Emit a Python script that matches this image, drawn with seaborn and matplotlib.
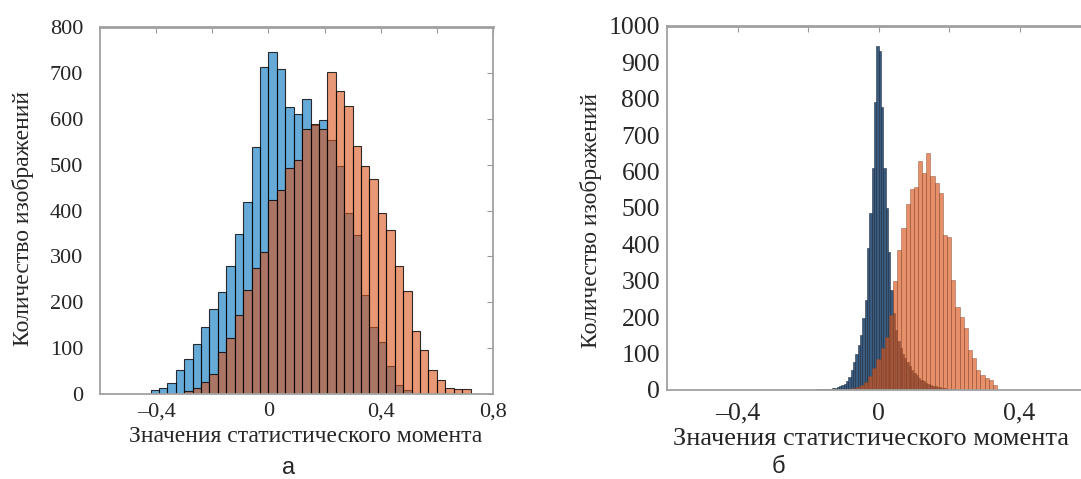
import numpy as np
import pandas as pd
import matplotlib
matplotlib.use("Agg")
import matplotlib.pyplot as plt
from matplotlib.colors import to_rgba
import seaborn as sns

# ---- panel a: counts per bin (bin width 0.03)
bin_a = 0.03
blue_a_start = -0.42
blue_a = [9, 12, 25, 52, 76, 109, 147, 185, 222, 278, 349, 419, 539, 713,
          746, 708, 626, 610, 644, 586, 597, 553, 496, 394, 347, 216, 147,
          114, 60, 20, 9]
orange_a_start = -0.30
orange_a = [7, 12, 27, 44, 92, 121, 172, 227, 274, 310, 423, 445, 492, 510,
            577, 588, 577, 702, 661, 628, 541, 497, 469, 395, 358, 278, 225,
            137, 96, 52, 31, 14, 10, 10]

# ---- panel b: narrow bins
bin_b_blue = 0.0066
blue_b_start = -0.178
blue_b = [2, 2, 3, 3, 3, 4, 4, 5, 6, 8, 10, 13, 17, 24, 35, 55, 78, 100,
          125, 151, 197, 247, 390, 486, 610, 792, 945, 930, 778, 610, 500,
          380, 275, 211, 165, 135, 115, 100, 88, 76, 65, 55, 48, 40, 34, 28,
          24, 20, 17, 14, 12, 10, 8, 7, 6, 5, 4, 3, 2, 2]
bin_b_orange = 0.0118
orange_b_start = -0.0886
orange_b = [3, 5, 8, 13, 22, 38, 60, 85, 115, 146, 206, 300, 385, 445, 511,
            552, 558, 630, 596, 652, 588, 568, 541, 426, 421, 302, 229, 201,
            170, 110, 88, 55, 41, 33, 27, 14]

xticks_a = [-0.4, -0.2, 0, 0.2, 0.4, 0.6, 0.8]
xlabels_a = ["–0,4", "", "0", "", "0,4", "", "0,8"]
xticks_b = [-0.4, -0.2, 0, 0.2, 0.4]
xlabels_b = ["–0,4", "", "0", "", "0,4"]
yticks_a = list(range(0, 801, 100))
yticks_b = list(range(0, 1001, 100))

xlabel = "Значения статистического момента"
ylabel = "Количество изображений"

sns.set_style("white")
plt.rcParams["font.family"] = ["Liberation Serif", "DejaVu Serif"]


def draw_hist(ax, start, width, counts, face, edge, lw):
    counts = np.asarray(counts, dtype=float)
    n = len(counts)
    centers = start + width * (np.arange(n) + 0.5)
    df = pd.DataFrame({"x": centers, "n": counts})
    before = len(ax.patches)
    sns.histplot(data=df, x="x", weights="n", binwidth=width,
                 binrange=(start, start + width * n), ax=ax,
                 color=face[:3], linewidth=lw)
    for p in ax.patches[before:]:
        p.set_alpha(None)
        p.set_facecolor(face)
        p.set_edgecolor(edge)
        p.set_linewidth(lw)


def style_axes(ax, xticks, xlabels, yticks, xlim, ylim, fs, xpad, ypad):
    ax.set_xticks(xticks)
    ax.set_xticklabels(xlabels)
    ax.set_yticks(yticks)
    ax.set_yticklabels([str(v) for v in yticks])
    ax.set_xlim(*xlim)
    ax.set_ylim(*ylim)
    ax.tick_params(direction="in", top=True, right=True, length=4,
                   width=0.8, color="#999999", labelsize=fs)
    ax.tick_params(axis="x", pad=xpad)
    ax.tick_params(axis="y", pad=ypad)
    for s in ax.spines.values():
        s.set_color("#a0a0a0")
        s.set_linewidth(1.3)
    ax.spines["top"].set_linewidth(2.0)


fig = plt.figure(figsize=(10.81, 4.79), dpi=100)
W, H = 1081, 479

blue_a_face = to_rgba("#0072BD", 0.6)
orange_a_face = to_rgba("#D95319", 0.6)

ax1 = fig.add_axes([100 / W, 1 - 394 / H, 393 / W, 367 / H])
draw_hist(ax1, blue_a_start, bin_a, blue_a, blue_a_face, (0, 0, 0, 0.8), 0.8)
draw_hist(ax1, orange_a_start, bin_a, orange_a, orange_a_face, (0, 0, 0, 0.8), 0.8)
style_axes(ax1, xticks_a, xlabels_a, yticks_a, (-0.6, 0.8), (0, 800), 16, 6, 12)
ax1.set_xlabel(xlabel, fontsize=17)
ax1.set_ylabel(ylabel, fontsize=17)
ax1.xaxis.set_label_coords((306 - 100) / 393, -(426 - 394) / 367)
ax1.yaxis.set_label_coords(-(100 - 34) / 393, (394 - 218) / 367)

ax2 = fig.add_axes([667 / W, 1 - 390 / H, 423 / W, 364 / H])
draw_hist(ax2, blue_b_start, bin_b_blue, blue_b, to_rgba("#284d75", 0.92),
          (0.1, 0.15, 0.22, 0.9), 0.4)
draw_hist(ax2, orange_b_start, bin_b_orange, orange_b, to_rgba("#D95319", 0.65),
          (0.5, 0.27, 0.18, 0.6), 0.5)
style_axes(ax2, xticks_b, xlabels_b, yticks_b, (-0.6, 0.6), (0, 1000), 18.5, 9, 5)
ax2.set_xlabel(xlabel, fontsize=19)
ax2.set_ylabel(ylabel, fontsize=17)
ax2.xaxis.set_label_coords((871 - 667) / 423, -(428 - 390) / 364)
ax2.yaxis.set_label_coords(-(667 - 602) / 423, (390 - 220) / 364)

fig.text(289 / W, 1 - 468 / H, "а", ha="center", va="center",
         fontsize=17, family=["Liberation Sans", "DejaVu Sans"])
fig.text(778 / W, 1 - 467 / H, "б", ha="center", va="center",
         fontsize=17, family=["Liberation Sans", "DejaVu Sans"])

fig.savefig("out.png", dpi=100)
